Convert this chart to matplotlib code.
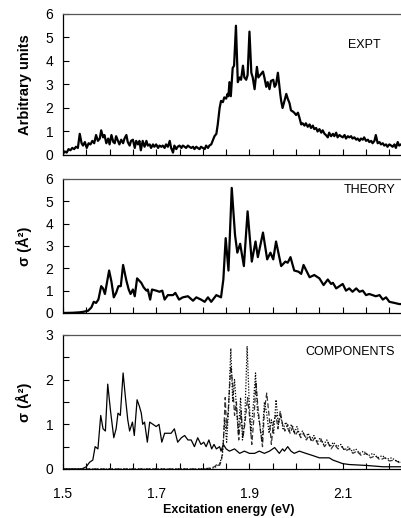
import matplotlib
matplotlib.use("Agg")
import matplotlib.pyplot as plt
from matplotlib.ticker import MultipleLocator

plt.rcParams['font.family'] = ['Liberation Sans', 'DejaVu Sans']

# ------------------ DATA ------------------

expt_energy = [
    1.500, 1.504, 1.508, 1.512, 1.516, 1.520, 1.524, 1.528, 1.532, 1.536,
    1.540, 1.543, 1.547, 1.551, 1.555, 1.559, 1.563, 1.567, 1.571, 1.575,
    1.579, 1.582, 1.586, 1.589, 1.593, 1.597, 1.600, 1.604, 1.608, 1.611,
    1.614, 1.618, 1.621, 1.625, 1.629, 1.632, 1.636, 1.639, 1.643, 1.646,
    1.650, 1.654, 1.657, 1.661, 1.664, 1.667, 1.671, 1.675, 1.679, 1.682,
    1.686, 1.689, 1.693, 1.696, 1.700, 1.704, 1.707, 1.711, 1.714, 1.718,
    1.721, 1.725, 1.729, 1.732, 1.736, 1.739, 1.743, 1.746, 1.750, 1.754,
    1.757, 1.761, 1.764, 1.768, 1.771, 1.775, 1.779, 1.782, 1.786, 1.789,
    1.793, 1.796, 1.800, 1.804, 1.807, 1.811, 1.814, 1.818, 1.821, 1.825,
    1.829, 1.832, 1.836, 1.839, 1.843, 1.846, 1.850, 1.853, 1.855, 1.857,
    1.860, 1.864, 1.867, 1.871, 1.875, 1.879, 1.882, 1.886, 1.889, 1.893,
    1.896, 1.900, 1.904, 1.907, 1.911, 1.916, 1.919, 1.923, 1.929, 1.932,
    1.936, 1.939, 1.943, 1.946, 1.951, 1.954, 1.957, 1.961, 1.966, 1.968,
    1.971, 1.975, 1.979, 1.982, 1.986, 1.989, 1.993, 1.996, 2.000, 2.004,
    2.007, 2.011, 2.014, 2.018, 2.021, 2.025, 2.029, 2.032, 2.036, 2.039,
    2.043, 2.046, 2.050, 2.054, 2.057, 2.061, 2.064, 2.068, 2.071, 2.075,
    2.079, 2.082, 2.086, 2.089, 2.093, 2.096, 2.100, 2.104, 2.107, 2.111,
    2.114, 2.118, 2.121, 2.125, 2.129, 2.132, 2.136, 2.139, 2.143, 2.146,
    2.150, 2.154, 2.157, 2.161, 2.164, 2.168, 2.171, 2.175, 2.179, 2.182,
    2.186, 2.189, 2.193, 2.196, 2.200, 2.204, 2.207, 2.211, 2.214, 2.218,
    2.221, 2.225,
]
expt_signal = [
    0.05, 0.15, 0.10, 0.25, 0.20, 0.30, 0.25, 0.35, 0.30, 0.90,
    0.50, 0.40, 0.55, 0.30, 0.50, 0.45, 0.60, 0.50, 0.85, 0.60,
    0.70, 1.05, 0.75, 0.85, 0.50, 0.70, 0.45, 0.85, 0.55, 0.50,
    0.80, 0.60, 0.45, 0.65, 0.50, 0.70, 0.85, 0.55, 0.40, 0.60,
    0.65, 0.30, 0.60, 0.45, 0.60, 0.20, 0.60, 0.35, 0.60, 0.40,
    0.45, 0.30, 0.45, 0.35, 0.45, 0.30, 0.40, 0.35, 0.40, 0.30,
    0.45, 0.35, 0.60, 0.30, 0.10, 0.40, 0.25, 0.35, 0.40, 0.30,
    0.40, 0.35, 0.30, 0.40, 0.35, 0.30, 0.35, 0.25, 0.35, 0.30,
    0.25, 0.35, 0.30, 0.25, 0.40, 0.30, 0.40, 0.45, 0.60, 0.80,
    0.90, 1.30, 2.00, 2.30, 2.25, 2.45, 2.40, 2.60, 2.50, 3.10,
    2.50, 3.70, 3.80, 5.50, 3.10, 3.30, 3.20, 3.80, 3.30, 3.20,
    3.40, 5.25, 3.50, 3.30, 2.80, 3.75, 3.30, 3.40, 3.55, 3.30,
    2.90, 3.10, 2.80, 3.15, 3.20, 2.90, 3.00, 3.50, 2.60, 2.30,
    2.00, 2.30, 2.60, 2.40, 2.20, 1.90, 1.85, 1.80, 1.70, 1.80,
    1.60, 1.30, 1.35, 1.25, 1.35, 1.20, 1.30, 1.15, 1.25, 1.10,
    1.15, 1.00, 1.10, 0.95, 1.05, 0.90, 0.85, 0.75, 0.95, 0.80,
    0.90, 0.80, 0.95, 0.75, 0.85, 0.80, 0.75, 0.85, 0.70, 0.80,
    0.75, 0.80, 0.70, 0.75, 0.65, 0.70, 0.60, 0.70, 0.65, 0.75,
    0.60, 0.65, 0.55, 0.60, 0.50, 0.60, 0.85, 0.50, 0.55, 0.45,
    0.50, 0.40, 0.45, 0.35, 0.45, 0.40, 0.35, 0.45, 0.30, 0.55,
    0.40, 0.45,
]

theory_energy = [
    1.500, 1.521, 1.536, 1.543, 1.554, 1.561, 1.566, 1.571, 1.576, 1.582,
    1.586, 1.590, 1.599, 1.604, 1.609, 1.614, 1.619, 1.624, 1.629, 1.636,
    1.641, 1.645, 1.650, 1.654, 1.659, 1.668, 1.673, 1.679, 1.682, 1.687,
    1.691, 1.700, 1.707, 1.713, 1.718, 1.725, 1.736, 1.741, 1.749, 1.757,
    1.768, 1.779, 1.786, 1.796, 1.804, 1.811, 1.818, 1.829, 1.839, 1.844,
    1.849, 1.855, 1.862, 1.869, 1.874, 1.880, 1.888, 1.896, 1.905, 1.913,
    1.918, 1.929, 1.938, 1.945, 1.951, 1.957, 1.968, 1.977, 1.982, 1.988,
    1.996, 2.005, 2.011, 2.016, 2.029, 2.039, 2.050, 2.059, 2.068, 2.075,
    2.079, 2.086, 2.093, 2.100, 2.107, 2.114, 2.121, 2.129, 2.136, 2.143,
    2.150, 2.157, 2.171, 2.179, 2.186, 2.193, 2.200, 2.211, 2.221, 2.229,
]
theory_sigma = [
    0.00, 0.01, 0.03, 0.05, 0.10, 0.25, 0.50, 0.45, 0.60, 1.20,
    1.10, 0.85, 1.90, 1.40, 0.70, 0.90, 1.20, 1.20, 2.15, 1.45,
    1.05, 0.85, 1.05, 0.75, 1.55, 1.35, 1.15, 1.00, 1.05, 0.60,
    1.05, 1.00, 0.95, 1.00, 0.60, 0.80, 0.80, 0.90, 0.60, 0.70,
    0.75, 0.55, 0.70, 0.60, 0.50, 0.70, 0.50, 0.80, 0.70, 1.50,
    3.35, 1.90, 5.60, 3.50, 2.70, 3.10, 2.10, 4.55, 2.30, 3.20,
    2.50, 3.60, 2.40, 2.70, 2.40, 3.20, 2.10, 2.30, 2.25, 2.50,
    1.90, 1.85, 1.75, 2.15, 1.60, 1.70, 1.55, 1.25, 1.50, 1.30,
    1.35, 1.10, 1.20, 1.30, 1.00, 1.10, 0.95, 1.10, 0.95, 1.00,
    0.80, 0.85, 0.75, 0.80, 0.60, 0.70, 0.50, 0.45, 0.40, 0.40,
]

comp1_energy = [
    1.500, 1.540, 1.550, 1.557, 1.564, 1.569, 1.575, 1.581, 1.586, 1.591,
    1.596, 1.602, 1.609, 1.614, 1.618, 1.623, 1.629, 1.634, 1.639, 1.643,
    1.649, 1.653, 1.659, 1.664, 1.668, 1.671, 1.675, 1.681, 1.686, 1.693,
    1.700, 1.706, 1.712, 1.718, 1.725, 1.732, 1.739, 1.746, 1.754, 1.761,
    1.768, 1.775, 1.782, 1.789, 1.796, 1.802, 1.807, 1.813, 1.819, 1.824,
    1.829, 1.836, 1.839, 1.844, 1.850, 1.857, 1.868, 1.879, 1.889, 1.900,
    1.911, 1.921, 1.932, 1.943, 1.954, 1.964, 1.971, 1.975, 1.982, 1.989,
    1.996, 2.007, 2.021, 2.036, 2.050, 2.071, 2.079, 2.100, 2.114, 2.150,
    2.186, 2.225,
]
comp1_sigma = [
    0.00, 0.00, 0.05, 0.15, 0.20, 0.50, 0.45, 1.20, 0.90, 0.85,
    1.90, 1.30, 0.70, 0.90, 1.25, 1.20, 2.15, 1.60, 1.10, 0.85,
    1.05, 0.75, 1.55, 1.40, 1.25, 1.00, 1.05, 0.60, 1.05, 1.00,
    0.95, 1.00, 0.60, 0.80, 0.80, 0.80, 0.90, 0.60, 0.70, 0.75,
    0.65, 0.65, 0.50, 0.70, 0.55, 0.60, 0.50, 0.65, 0.45, 0.55,
    0.45, 0.50, 0.40, 0.55, 0.45, 0.40, 0.45, 0.35, 0.40, 0.35,
    0.35, 0.40, 0.35, 0.40, 0.48, 0.35, 0.45, 0.40, 0.50, 0.40,
    0.35, 0.40, 0.35, 0.30, 0.25, 0.25, 0.20, 0.12, 0.10, 0.08,
    0.05, 0.05,
]

comp2_energy = [
    1.500, 1.800, 1.815, 1.825, 1.832, 1.836, 1.840, 1.844, 1.848, 1.851,
    1.855, 1.860, 1.864, 1.868, 1.872, 1.877, 1.882, 1.886, 1.890, 1.896,
    1.900, 1.905, 1.910, 1.914, 1.918, 1.923, 1.928, 1.932, 1.937, 1.942,
    1.947, 1.952, 1.957, 1.961, 1.966, 1.971, 1.976, 1.982, 1.987, 1.993,
    1.998, 2.004, 2.010, 2.016, 2.022, 2.028, 2.034, 2.040, 2.047, 2.054,
    2.061, 2.068, 2.075, 2.082, 2.090, 2.098, 2.106, 2.114, 2.122, 2.130,
    2.140, 2.150, 2.160, 2.170, 2.180, 2.190, 2.200, 2.212, 2.225,
]
comp2_sigma = [
    0.00, 0.00, 0.02, 0.05, 0.12, 0.08, 0.20, 0.60, 1.60, 0.90,
    1.40, 2.30, 1.90, 1.20, 1.50, 0.65, 1.30, 0.70, 1.00, 1.60,
    1.20, 0.55, 1.20, 1.95, 1.40, 0.90, 0.50, 1.30, 1.70, 1.20,
    0.55, 1.10, 1.20, 0.90, 1.30, 1.00, 0.85, 1.00, 0.80, 0.95,
    0.75, 0.85, 0.70, 0.80, 0.65, 0.75, 0.60, 0.70, 0.55, 0.65,
    0.50, 0.60, 0.45, 0.55, 0.45, 0.50, 0.40, 0.45, 0.35, 0.40,
    0.30, 0.35, 0.25, 0.30, 0.20, 0.25, 0.18, 0.20, 0.12,
]

comp3_energy = [
    1.500, 1.810, 1.825, 1.835, 1.842, 1.847, 1.851, 1.855, 1.860, 1.864,
    1.868, 1.872, 1.876, 1.881, 1.885, 1.890, 1.895, 1.899, 1.903, 1.908,
    1.913, 1.917, 1.922, 1.927, 1.932, 1.937, 1.942, 1.947, 1.952, 1.957,
    1.962, 1.967, 1.972, 1.978, 1.984, 1.990, 1.996, 2.002, 2.008, 2.014,
    2.020, 2.026, 2.032, 2.038, 2.045, 2.052, 2.059, 2.066, 2.073, 2.080,
    2.088, 2.096, 2.104, 2.112, 2.120, 2.128, 2.136, 2.145, 2.155, 2.165,
    2.175, 2.185, 2.195, 2.205, 2.215, 2.225,
]
comp3_sigma = [
    0.00, 0.00, 0.03, 0.10, 0.30, 1.10, 0.60, 1.30, 2.70, 1.50,
    2.00, 1.40, 0.80, 1.60, 0.65, 1.10, 2.75, 1.60, 0.80, 1.40,
    2.15, 1.30, 1.00, 0.60, 1.50, 1.25, 0.80, 1.10, 0.80, 1.55,
    1.00, 1.20, 0.90, 1.05, 0.85, 1.00, 0.80, 0.95, 0.75, 0.85,
    0.70, 0.80, 0.65, 0.75, 0.60, 0.70, 0.55, 0.65, 0.50, 0.60,
    0.50, 0.55, 0.42, 0.50, 0.40, 0.45, 0.35, 0.40, 0.30, 0.35,
    0.25, 0.30, 0.22, 0.25, 0.18, 0.15,
]

x_ticks = [1.5, 1.7, 1.9, 2.1]


# ------------------ HELPERS ------------------

def style_axis(ax, ymax, ystep, label):
    ax.set_xlim(1.5, 2.225)
    ax.set_ylim(0, ymax)
    ax.xaxis.set_major_locator(MultipleLocator(0.05))
    ax.yaxis.set_major_locator(MultipleLocator(ystep))
    ax.tick_params(direction="in", length=4, width=0.8, labelsize=10,
                   top=False, right=False)
    ax.tick_params(axis="y", pad=7)
    ax.tick_params(axis="x", pad=13)
    ax.spines["right"].set_visible(False)
    ax.spines["top"].set_color("#555555")
    for s in ("left", "bottom", "top"):
        ax.spines[s].set_linewidth(0.9)
    ax.set_ylabel(label, fontsize=10.5, fontweight="bold")
    ax.yaxis.set_label_coords(-0.092, 0.5)


# ------------------ PLOT ------------------

fig = plt.figure(figsize=(4.01, 5.18), dpi=100)
ax1 = fig.add_axes([0.157, 0.7008, 0.843, 0.2722])
ax2 = fig.add_axes([0.157, 0.3958, 0.843, 0.2587])
ax3 = fig.add_axes([0.157, 0.0946, 0.843, 0.2587])

ax1.plot(expt_energy, expt_signal, color="black", lw=1.6)
style_axis(ax1, 6, 1, "Arbitrary units")
ax1.tick_params(labelbottom=False)
ax1.text(2.147, 4.68, "EXPT", fontsize=9, ha="center", va="center")

ax2.plot(theory_energy, theory_sigma, color="black", lw=1.6)
style_axis(ax2, 6, 1, "σ (Å²)")
ax2.tick_params(labelbottom=False)
ax2.text(2.157, 5.5, "THEORY", fontsize=9, ha="center", va="center")

ax3.plot(comp1_energy, comp1_sigma, color="black", lw=0.9)
ax3.plot(comp2_energy, comp2_sigma, color="#333333", lw=0.9, dashes=(4, 2))
ax3.plot(comp3_energy, comp3_sigma, color="black", lw=0.9, dashes=(1, 1.3))
style_axis(ax3, 3, 0.5, "σ (Å²)")
ax3.set_yticks([0, 1, 2, 3])
ax3.set_yticks([0.5, 1.5, 2.5], minor=True)
ax3.tick_params(which="minor", direction="in", length=4, width=0.8, right=False)
ax3.set_xticks([x / 100 for x in range(150, 225, 5)])
ax3.set_xticklabels(["%.1f" % t if round(t, 2) in x_ticks else ""
                     for t in [x / 100 for x in range(150, 225, 5)]])
ax3.text(2.116, 2.62, "COMPONENTS", fontsize=9, ha="center", va="center")
ax3.set_xlabel("Excitation energy (eV)", fontsize=9, fontweight="bold")
ax3.xaxis.set_label_coords(0.49, -0.262)

fig.savefig("out.png", dpi=100)
